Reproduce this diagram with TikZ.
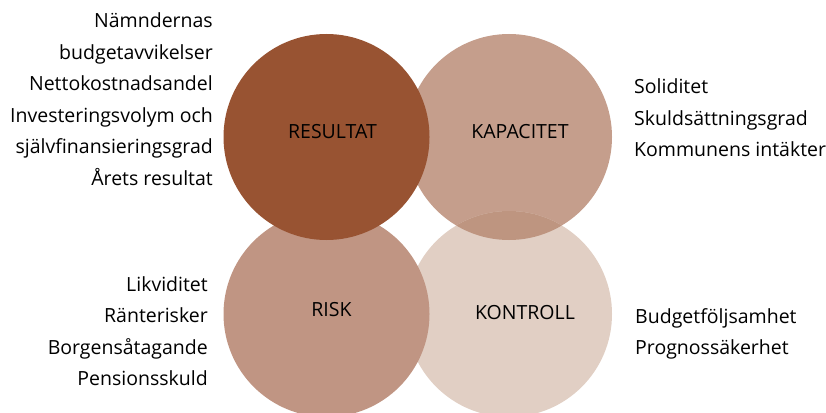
\documentclass[tikz,border=0pt]{standalone}
\usepackage{fontspec}
\setmainfont{Open Sans}
\usetikzlibrary{positioning}
\definecolor{resultat}{RGB}{152,83,50}
\definecolor{kapacitet}{RGB}{197,158,140}
\definecolor{risk}{RGB}{192,149,131}
\definecolor{kontroll}{RGB}{225,207,196}
\definecolor{overlap}{RGB}{190,149,128}
\tikzstyle{every picture} = [node distance=182.5pt]
\tikzstyle{ring} = [circle, minimum size=206pt, inner sep=0pt]
\tikzstyle{tag} = [font=\fontsize{19.5}{22}\selectfont, inner sep=0pt]
\tikzstyle{list} = [font=\fontsize{19.5}{31.5}\selectfont, inner sep=0pt]

\begin{document}
\begin{tikzpicture}[x=1pt, y=-1pt]
            \useasboundingbox (0,0) rectangle (826,412);
            \node (kap) [ring, fill=kapacitet] at (509,137) {};
            \node (kon) [ring, fill=kontroll, below of=kap, node distance=177pt] {};
            \begin{scope}
              \clip (kap) circle (103pt);
              \fill[overlap] (kon) circle (103pt);
            \end{scope}
            \node (risk) [ring, fill=risk, left of=kon] {};
            \node (res) [ring, fill=resultat, above of=risk, node distance=177pt] {};

            \node (res text) [tag] at ([shift={(6,-5)}]res) {RESULTAT};
            \node (kap text) [tag] at ([shift={(11,-5)}]kap) {KAPACITET};
            \node (risk text) [tag] at ([shift={(5,-4)}]risk) {RISK};
            \node (kon text) [tag] at ([shift={(16,-1)}]kon) {KONTROLL};

            \node (res list) [list, align=right, anchor=east] at (213,99)
                  {Nämndernas\\budgetavvikelser\\Nettokostnadsandel\\Investeringsvolym och\\självfinansieringsgrad\\Årets resultat};
            \node (kap list) [list, align=left, anchor=west] at (634,118)
                  {Soliditet\\Skuldsättningsgrad\\Kommunens intäkter};
            \node (risk list) [list, align=right, anchor=east] at (208,331)
                  {Likviditet\\Ränterisker\\Borgensåtagande\\Pensionsskuld};
            \node (kon list) [list, align=left, anchor=west] at (635,334)
                  {Budgetföljsamhet\\Prognossäkerhet};
\end{tikzpicture}
\end{document}
